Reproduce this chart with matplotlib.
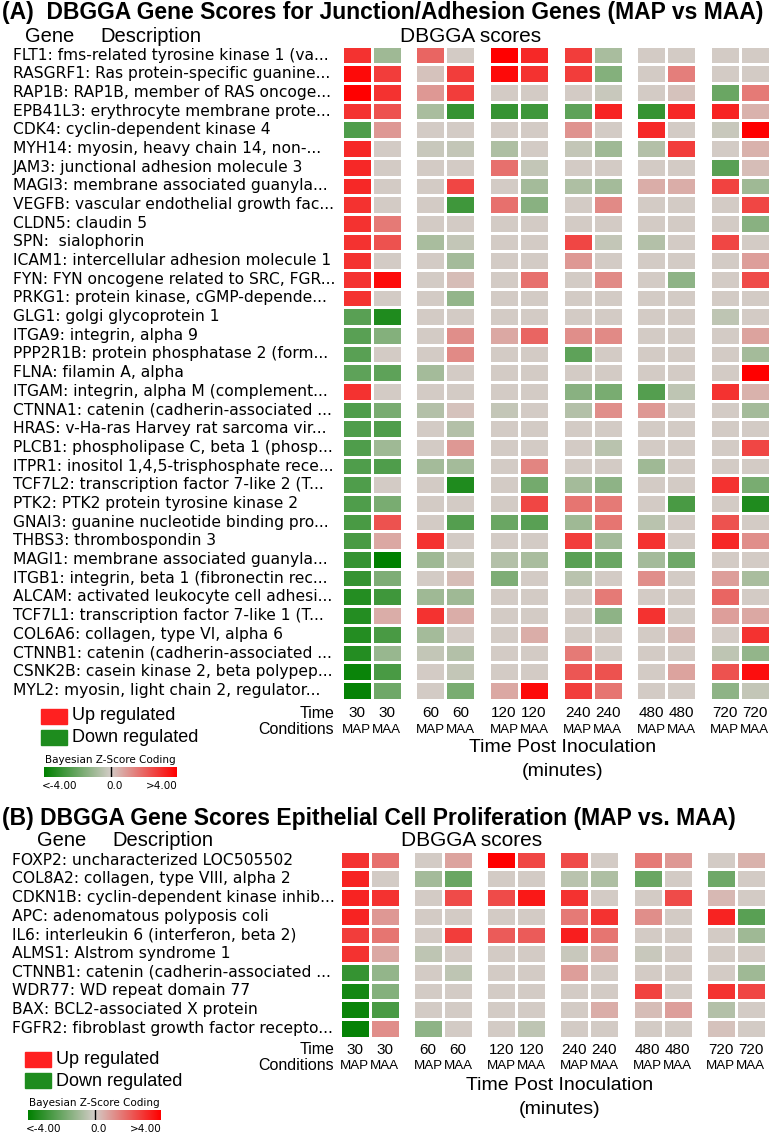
import numpy as np
import matplotlib.pyplot as plt
from matplotlib.colors import LinearSegmentedColormap
from matplotlib.patches import Rectangle
from matplotlib.transforms import blended_transform_factory

# column labels
times = ['30', '30', '60', '60', '120', '120', '240', '240', '480', '480', '720', '720']
conditions = ['MAP', 'MAA'] * 6

# panel A - junction / adhesion genes
genes_a = [
    'FLT1: fms-related tyrosine kinase 1 (va...',
    'RASGRF1: Ras protein-specific guanine...',
    'RAP1B: RAP1B, member of RAS oncoge...',
    'EPB41L3: erythrocyte membrane prote...',
    'CDK4: cyclin-dependent kinase 4',
    'MYH14: myosin, heavy chain 14, non-...',
    'JAM3: junctional adhesion molecule 3',
    'MAGI3: membrane associated guanyla...',
    'VEGFB: vascular endothelial growth fac...',
    'CLDN5: claudin 5',
    'SPN:  sialophorin',
    'ICAM1: intercellular adhesion molecule 1',
    'FYN: FYN oncogene related to SRC, FGR...',
    'PRKG1: protein kinase, cGMP-depende...',
    'GLG1: golgi glycoprotein 1',
    'ITGA9: integrin, alpha 9',
    'PPP2R1B: protein phosphatase 2 (form...',
    'FLNA: filamin A, alpha',
    'ITGAM: integrin, alpha M (complement...',
    'CTNNA1: catenin (cadherin-associated ...',
    'HRAS: v-Ha-ras Harvey rat sarcoma vir...',
    'PLCB1: phospholipase C, beta 1 (phosp...',
    'ITPR1: inositol 1,4,5-trisphosphate rece...',
    'TCF7L2: transcription factor 7-like 2 (T...',
    'PTK2: PTK2 protein tyrosine kinase 2',
    'GNAI3: guanine nucleotide binding pro...',
    'THBS3: thrombospondin 3',
    'MAGI1: membrane associated guanyla...',
    'ITGB1: integrin, beta 1 (fibronectin rec...',
    'ALCAM: activated leukocyte cell adhesi...',
    'TCF7L1: transcription factor 7-like 1 (T...',
    'COL6A6: collagen, type VI, alpha 6',
    'CTNNB1: catenin (cadherin-associated ...',
    'CSNK2B: casein kinase 2, beta polypep...',
    'MYL2: myosin, light chain 2, regulator...',
]
scores_a = np.array([
    [3.0, -1.0, 2.0, 0, 4.0, 3.2, 2.8, -0.8, 0, 0, 0, 0],
    [3.8, 2.8, 0.2, 2.8, 3.8, 3.0, 2.8, -1.5, 0, 1.5, 0, 0],
    [4.0, 3.0, 1.0, 2.8, 0, 0, 0, -0.2, 0, 0.2, -2.0, 1.6],
    [3.0, 2.4, -0.8, -3.0, -3.0, -2.8, -2.2, 3.3, -3.0, 3.2, 3.3, 0.5],
    [-2.5, 1.0, 0, 0, 0, 0, 1.1, 0, 3.2, 0, -0.2, 4.0],
    [3.2, 0, -0.2, -0.3, -0.7, 0, -0.3, -1.0, -0.6, 2.8, 0, 0.5],
    [3.2, 0, 0, 0, 1.8, -0.3, 0, 0, 0, 0, -2.3, 0.3],
    [3.2, 0, 0, 2.6, 0, -0.9, -0.7, -0.9, 0.6, 0.6, 2.7, -1.0],
    [3.0, 0, 0, -2.8, 1.8, -1.4, 0, 1.3, 0, 0, 0, 2.6],
    [3.0, 1.6, 0, 0, 0, 0, 0, 0, 0, 0, 0, -1.4],
    [3.0, 2.4, -0.8, -0.3, 0, 0, 2.6, -0.3, -0.6, 0, 2.6, 0],
    [3.0, 0, 0, -0.9, 0, 0, 1.0, 0, 0, 0, 0, 0.9],
    [3.0, 3.8, 0, 0.3, 0, 1.8, 0, 1.3, 0, -1.3, 0, 2.5],
    [3.0, 0, 0, -1.2, 0, 0, 0, 0, 0, 0, 0, 0],
    [-2.3, -3.4, 0, 0, 0, 0, 0, 0, 0, 0, -0.4, 0],
    [-2.3, -1.5, 0, 1.2, 0.7, 2.0, 1.2, 1.3, 0, 0, 0, 0.8],
    [-2.3, 0, 0, 1.3, 0, 0, -2.2, 0, 0, 0, 0, -0.9],
    [-2.2, -2.2, -0.9, 0, 0, 0, 0, 0, 0, 0, 0, 4.0],
    [3.0, 0, 0, 0, 0, 0, -1.4, -1.7, -2.4, -0.4, 3.0, 0.5],
    [-2.5, -1.7, -0.6, 0.2, -0.3, 0, -0.6, 1.2, 1.0, 0, 0, -0.9],
    [-2.5, -2.5, 0, -0.6, 0, 0, 0, 0, 0, 0, 0, 0],
    [-2.5, -1.0, 0, 1.0, 0, 0, 0, -0.5, 0, 0, 0, 2.6],
    [-2.5, -2.5, -0.9, -0.9, 0, 1.4, 0, 0, -1.0, 0, 0, 0],
    [-2.5, 0, 0, -3.4, 0, -1.8, -0.9, -1.3, 0, 0, 3.0, -1.7],
    [-2.5, -1.7, 0, 0, 0, 2.6, 1.7, 1.6, 0, -2.6, 0, -3.4],
    [-2.6, 2.4, 0, -2.4, -2.0, -2.3, -1.0, 1.7, -0.5, 0, 2.4, 0],
    [-2.6, 0.7, 3.0, 0, 0, 0, 2.8, -0.9, 3.0, 0, 3.2, 1.2],
    [-3.0, -4.0, -1.0, -0.2, -0.6, -0.8, -2.3, -2.0, -0.9, -1.9, 0, 0],
    [-3.0, -1.6, 0, 0.3, -1.6, 0, -0.5, 0, 1.2, 0, 0.9, -0.8],
    [-3.3, -2.8, -1.0, -1.0, 0, 0, 0, 1.6, 0, 0, 2.0, 0],
    [-3.3, 0.6, 3.0, 0.6, 0, 0, 0, -1.3, 3.0, 0, 0.9, 0.7],
    [-3.3, -2.6, -0.9, 0, 0, 0.6, 0, 0, 0, 0.4, 0, 3.0],
    [-3.3, -1.1, -0.3, -0.6, 0, 0, 1.6, 0, 0, 0, -0.4, -1.2],
    [-3.8, -2.6, 0, -0.3, 0, 0, 2.3, 2.4, 0, 0.8, 2.4, 3.7],
    [-3.9, -1.9, 0, -1.7, 0.7, 3.8, 2.8, 1.7, 0, 0, -1.3, -0.3],
])

# panel B - epithelial cell proliferation
genes_b = [
    'FOXP2: uncharacterized LOC505502',
    'COL8A2: collagen, type VIII, alpha 2',
    'CDKN1B: cyclin-dependent kinase inhib...',
    'APC: adenomatous polyposis coli',
    'IL6: interleukin 6 (interferon, beta 2)',
    'ALMS1: Alstrom syndrome 1',
    'CTNNB1: catenin (cadherin-associated ...',
    'WDR77: WD repeat domain 77',
    'BAX: BCL2-associated X protein',
    'FGFR2: fibroblast growth factor recepto...',
]
scores_b = np.array([
    [3.0, 1.8, 0, 0.8, 4.0, 2.6, 2.5, 0, 1.6, 1.0, 0, 0.5],
    [3.3, 0, -0.9, -2.0, 0, 0, -0.5, -0.7, -2.0, 0, -1.9, 0],
    [3.3, 3.0, 0, 2.5, 2.5, 3.5, 3.0, 0, 0, 2.5, 0.4, 0],
    [3.3, 1.0, 0, 0, 0, 0, 1.6, 3.0, 1.2, 0, 3.3, -2.3],
    [2.8, 1.7, 0, 2.8, 2.2, 2.2, 3.4, 1.7, 0, 0, 0, -1.0],
    [3.0, 0.7, -0.4, 0, 0, 0, -0.2, 0.7, -0.2, 0, 0, 0],
    [-3.0, -1.2, 0, -0.4, 0, 0, 0.9, 0, 0, 0, 0, -1.0],
    [-3.6, -1.5, 0, 0, 0, 0, 0, 0, 2.7, 0, 3.0, 2.6],
    [-3.8, -2.6, 0, 0, 0, 0, 0, 0.6, 0.3, 0.9, -0.6, 0],
    [-3.9, 1.2, -1.3, 0, 0, -0.4, 0, 0, 0, 0, 0.2, 0],
])

W, H = 772, 1133
fig = plt.figure(figsize=(W / 100, H / 100), dpi=100)
cmap = LinearSegmentedColormap.from_list('dbgga', ['#008000', '#D3CCC6', '#FF0000'])
ARIAL = 'Liberation Sans'
VERD = 'DejaVu Sans'


def px_axes(x, y, w, h):
    return fig.add_axes([x / W, 1 - (y + h) / H, w / W, h / H])


def ftext(x, y, s, **kw):
    kw.setdefault('va', 'center')
    fig.text(x / W, 1 - y / H, s, **kw)


def draw_panel(scores, genes, top, row_h, left, pitch, label_x, y_time, y_cond):
    n = len(genes)
    for p in range(6):
        ax = px_axes(left + p * pitch, top, 60, n * row_h)
        ax.pcolormesh(scores[:, 2 * p:2 * p + 2], cmap=cmap, vmin=-4, vmax=4,
                      edgecolors='white', linewidth=1.8)
        ax.set_xlim(0, 2)
        ax.set_ylim(n, 0)
        ax.axis('off')
        tr = blended_transform_factory(ax.transData, fig.transFigure)
        for k in range(2):
            ax.text(k + 0.5, 1 - y_time / H, times[2 * p + k], transform=tr,
                    ha='center', va='center', fontsize=11, family=ARIAL)
            ax.text(k + 0.5, 1 - y_cond / H, conditions[2 * p + k], transform=tr,
                    ha='center', va='center', fontsize=9.6, family=ARIAL)
        if p == 0:
            tr2 = blended_transform_factory(fig.transFigure, ax.transData)
            for i, g in enumerate(genes):
                ax.text(label_x / W, i + 0.5, g, transform=tr2, ha='left',
                        va='center', fontsize=11.2, family=VERD)
    ftext(334, y_time, 'Time', ha='right', fontsize=11.5, family=ARIAL)
    ftext(334, y_cond, 'Conditions', ha='right', fontsize=11.5, family=ARIAL)


def draw_legend(x, y):
    # x, y: top-left of the red swatch
    fig.patches.append(Rectangle((x / W, 1 - (y + 15) / H), 26 / W, 15 / H,
                                 transform=fig.transFigure, color='#FF2020'))
    fig.patches.append(Rectangle((x / W, 1 - (y + 36) / H), 26 / W, 15 / H,
                                 transform=fig.transFigure, color='#1E8C1E'))
    ftext(x + 31, y + 7, 'Up regulated', fontsize=13, family=ARIAL)
    ftext(x + 31, y + 29, 'Down regulated', fontsize=13, family=ARIAL)
    ftext(x + 4, y + 51, 'Bayesian Z-Score Coding', fontsize=7.5, family=VERD)
    cax = px_axes(x + 3, y + 58, 133, 10)
    cax.imshow(np.linspace(-4, 4, 256)[None, :], cmap=cmap, aspect='auto', vmin=-4, vmax=4)
    cax.axvline(127.5, color='black', lw=1)
    cax.axis('off')
    ftext(x + 1, y + 77, '<-4.00', fontsize=7.5, family=VERD)
    ftext(x + 74, y + 77, '0.0', fontsize=7.5, family=VERD, ha='center')
    ftext(x + 137, y + 77, '>4.00', fontsize=7.5, family=VERD, ha='right')


# ---- panel A
ftext(2, 13, '(A)  DBGGA Gene Scores for Junction/Adhesion Genes (MAP vs MAA)',
      fontsize=16.5, fontweight='bold', family=ARIAL)
ftext(25, 37, 'Gene', fontsize=14.5, family=ARIAL)
ftext(100, 37, 'Description', fontsize=14.5, family=ARIAL)
ftext(471, 37, 'DBGGA scores', fontsize=15, family=ARIAL, ha='center')
draw_panel(scores_a, genes_a, 45.75, 18.68, 341.75, 73.6, 13, 713, 730)
ftext(563, 747, 'Time Post Inoculation', fontsize=14, family=ARIAL, ha='center')
ftext(563, 771, '(minutes)', fontsize=14, family=ARIAL, ha='center')
draw_legend(41, 709)

# ---- panel B
ftext(2, 818, '(B) DBGGA Gene Scores Epithelial Cell Proliferation (MAP vs. MAA)',
      fontsize=16.5, fontweight='bold', family=ARIAL)
ftext(37, 840, 'Gene', fontsize=14.5, family=ARIAL)
ftext(112, 840, 'Description', fontsize=14.5, family=ARIAL)
ftext(472, 840, 'DBGGA scores', fontsize=15, family=ARIAL, ha='center')
draw_panel(scores_b, genes_b, 850.75, 18.7, 339.75, 73.2, 12, 1050, 1066)
ftext(560, 1085, 'Time Post Inoculation', fontsize=14, family=ARIAL, ha='center')
ftext(560, 1110, '(minutes)', fontsize=14, family=ARIAL, ha='center')
draw_legend(25, 1052)

fig.savefig('out.png', dpi=100)
